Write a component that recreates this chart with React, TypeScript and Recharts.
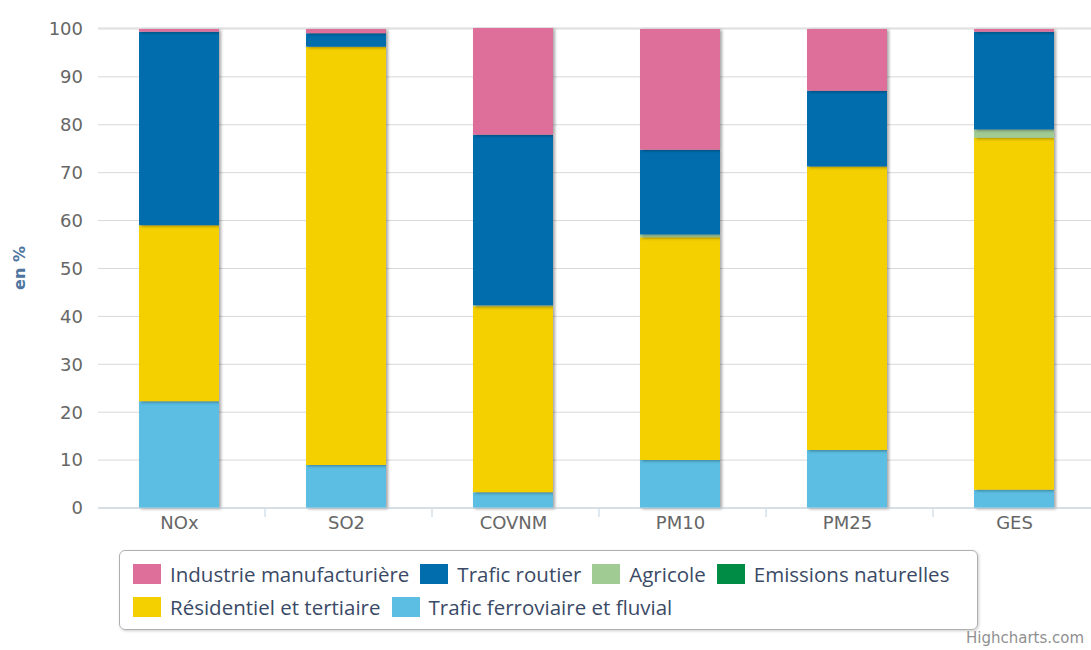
import React from 'react';
import { BarChart, Bar, XAxis, YAxis, CartesianGrid } from 'recharts';

const categories = ['NOx', 'SO2', 'COVNM', 'PM10', 'PM25', 'GES'];

const industrie = [0.6, 0.9, 22.3, 25.2, 12.9, 0.6];
const traficRoutier = [40.4, 2.8, 35.6, 17.7, 15.8, 20.4];
const agricole = [0, 0, 0.2, 0.6, 0, 1.7];
const emissionsNaturelles = [0, 0, 0, 0, 0, 0];
const residentiel = [36.7, 87.3, 38.8, 46.5, 59.2, 73.5];
const ferroviaire = [22.3, 9, 3.3, 10, 12.1, 3.8];

const yTicks = [0, 10, 20, 30, 40, 50, 60, 70, 80, 90, 100];

// legend order (top of stack first), as in the original
const series = [
  { key: 'industrie', name: 'Industrie manufacturière', color: '#de6f9a', values: industrie },
  { key: 'routier', name: 'Trafic routier', color: '#016dad', values: traficRoutier },
  { key: 'agricole', name: 'Agricole', color: '#a0cb93', values: agricole },
  { key: 'naturelles', name: 'Emissions naturelles', color: '#008c45', values: emissionsNaturelles },
  { key: 'residentiel', name: 'Résidentiel et tertiaire', color: '#f4d000', values: residentiel },
  { key: 'ferroviaire', name: 'Trafic ferroviaire et fluvial', color: '#5bbee2', values: ferroviaire },
];

const data = categories.map((name, i) => {
  const row: Record<string, string | number> = { name };
  series.forEach((s) => {
    row[s.key] = s.values[i];
  });
  return row;
});

const FONT = '"DejaVu Sans", Verdana, sans-serif';
const LEGEND_FONT = '"Open Sans", sans-serif';
const CAT_WIDTH = 167;

const XTick = (props: any) => {
  const { x, y, payload, index } = props;
  return (
    <g>
      {index > 0 && (
        <line x1={x - CAT_WIDTH / 2} x2={x - CAT_WIDTH / 2} y1={y - 7} y2={y + 1} stroke="#c0d0e0" />
      )}
      <text x={x - 2} y={y + 13} textAnchor="middle" fill="#666666" fontSize={18} fontFamily={FONT}>
        {payload.value}
      </text>
    </g>
  );
};

const App: React.FC = () => {
  const stackOrder = [...series].reverse();
  return (
    <div style={{ position: 'fixed', left: 0, top: 0, width: 1091, height: 650, overflow: 'hidden', background: '#fff' }}>
      <style>{`
        .recharts-bar-rectangle path { filter: drop-shadow(2px 1px 1.5px rgba(0,0,0,0.35)); }
        .recharts-bar-rectangles { transform: translateX(-3px); }
      `}</style>
      <BarChart
        width={1110}
        height={650}
        data={data}
        margin={{ top: 28, right: 10, left: 0, bottom: 112 }}
        barSize={80}
      >
        <CartesianGrid vertical={false} stroke="#d8d8d8" />
        <XAxis
          dataKey="name"
          height={30}
          axisLine={{ stroke: '#c0d0e0' }}
          tickLine={false}
          tick={<XTick />}
          interval={0}
        />
        <YAxis
          width={98}
          domain={[0, 100]}
          ticks={yTicks}
          axisLine={false}
          tickLine={false}
          tickSize={0}
          tickMargin={15}
          tick={{ fill: '#666666', fontSize: 18, fontFamily: FONT }}
          label={{
            value: 'en %',
            angle: -90,
            position: 'insideLeft',
            offset: 19,
            style: { fill: '#4d759e', fontSize: 16, fontWeight: 'bold', fontFamily: FONT, textAnchor: 'middle' },
          }}
        />
        {stackOrder.map((s) => (
          <Bar key={s.key} dataKey={s.key} name={s.name} stackId="a" fill={s.color} isAnimationActive={false} />
        ))}
      </BarChart>
      <div
        style={{
          position: 'absolute',
          left: 119,
          top: 550,
          width: 859,
          height: 80,
          border: '1px solid #b0b0b0',
          borderRadius: 6,
          boxShadow: '1px 1px 3px rgba(0,0,0,0.2)',
          boxSizing: 'border-box',
          padding: '6px 0 0 13px',
          fontFamily: LEGEND_FONT,
          fontSize: 20.5,
          color: '#3a4a66',
        }}
      >
        {[series.slice(0, 4), series.slice(4)].map((row, r) => (
          <div key={r} style={{ display: 'flex', alignItems: 'center', height: 33, whiteSpace: 'nowrap' }}>
            {row.map((s) => (
              <span key={s.key} style={{ display: 'inline-flex', alignItems: 'center', marginRight: 11 }}>
                <span style={{ width: 28, height: 20, background: s.color, display: 'inline-block', marginRight: 9 }} />
                {s.name}
              </span>
            ))}
          </div>
        ))}
      </div>
      <div style={{ position: 'absolute', left: 966, top: 629, fontFamily: FONT, fontSize: 15, color: '#909090' }}>
        Highcharts.com
      </div>
    </div>
  );
};

export default App;
